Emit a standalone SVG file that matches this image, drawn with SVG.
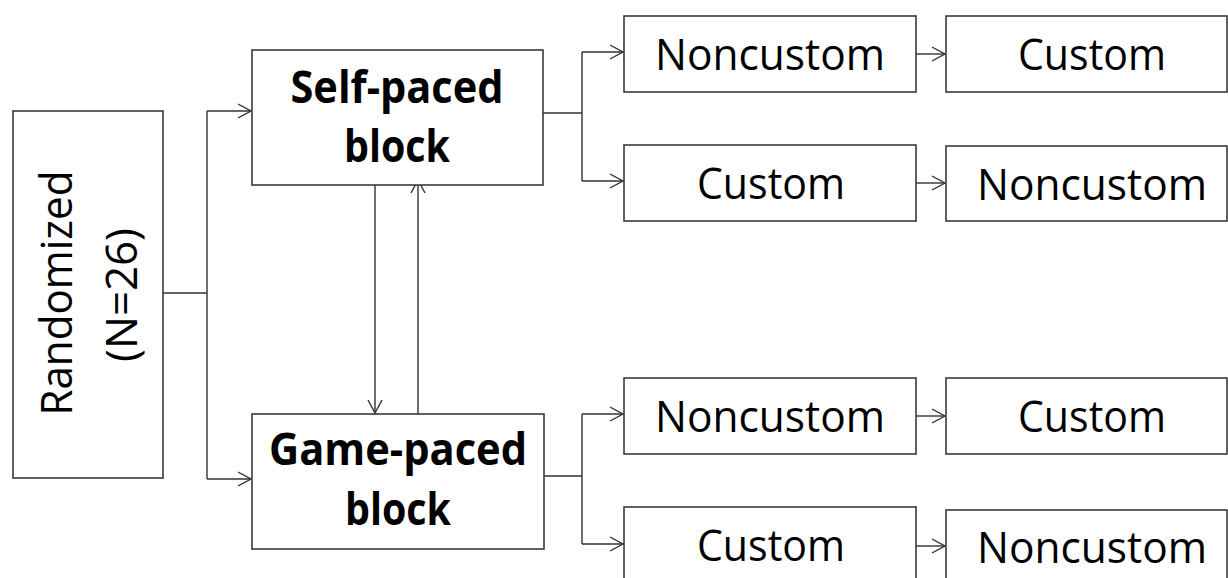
<svg xmlns="http://www.w3.org/2000/svg" width="1228" height="578" viewBox="0 0 1228 578">
<defs>
<style>
.box{fill:#fff;stroke:#3a3a3a;stroke-width:1.6}
.ln{fill:none;stroke:#333;stroke-width:1.4}
.t{font-family:"Open Sans","Liberation Sans",sans-serif;font-size:44px;fill:#000;text-anchor:middle}
.b{font-family:"Open Sans","Liberation Sans",sans-serif;font-size:44px;font-weight:bold;fill:#000;text-anchor:middle}
</style>
<marker id="arr" viewBox="0 0 14 16" refX="13" refY="8" markerWidth="14" markerHeight="16" markerUnits="userSpaceOnUse" orient="auto">
<path d="M0,1 L13,8 L0,15" fill="none" stroke="#333" stroke-width="1.4"/>
</marker>
</defs>
<rect width="1228" height="578" fill="#fff"/>
<g id="connectors">
<path class="ln" d="M163,293 H207 M207,111 V479"/>
<path class="ln" d="M207,111 H251" marker-end="url(#arr)"/>
<path class="ln" d="M207,479 H251" marker-end="url(#arr)"/>
<path class="ln" d="M543,113 H582 M582,52 V181"/>
<path class="ln" d="M582,52 H623" marker-end="url(#arr)"/>
<path class="ln" d="M582,181 H623" marker-end="url(#arr)"/>
<path class="ln" d="M544,476 H582 M582,414 V544"/>
<path class="ln" d="M582,414 H623" marker-end="url(#arr)"/>
<path class="ln" d="M582,544 H623" marker-end="url(#arr)"/>
<path class="ln" d="M916,54 H945" marker-end="url(#arr)"/>
<path class="ln" d="M916,183 H945" marker-end="url(#arr)"/>
<path class="ln" d="M916,416 H945" marker-end="url(#arr)"/>
<path class="ln" d="M916,546 H945" marker-end="url(#arr)"/>
<path class="ln" d="M375,179 V413" marker-end="url(#arr)"/>
<path class="ln" d="M418,414 V180" marker-end="url(#arr)"/>
</g>
<g id="randomized">
<rect class="box" x="13" y="111" width="150" height="367"/>
<text class="t" transform="translate(72,293) rotate(-90)" textLength="245" lengthAdjust="spacingAndGlyphs">Randomized</text>
<text class="t" transform="translate(137,295) rotate(-90)" textLength="134" lengthAdjust="spacingAndGlyphs">(N=26)</text>
</g>
<g id="self-paced">
<rect class="box" x="252" y="50" width="291" height="135"/>
<text class="b" x="397" y="103" textLength="213" lengthAdjust="spacingAndGlyphs">Self-paced</text>
<text class="b" x="397" y="162" textLength="106" lengthAdjust="spacingAndGlyphs">block</text>
</g>
<g id="game-paced">
<rect class="box" x="252" y="414" width="292" height="135"/>
<text class="b" x="398" y="465" textLength="258" lengthAdjust="spacingAndGlyphs">Game-paced</text>
<text class="b" x="398" y="525" textLength="106" lengthAdjust="spacingAndGlyphs">block</text>
</g>
<g id="sp-noncustom-1">
<rect class="box" x="624" y="16" width="292" height="76"/>
<text class="t" x="770" y="70" textLength="230" lengthAdjust="spacingAndGlyphs">Noncustom</text>
</g>
<g id="sp-custom-1">
<rect class="box" x="946" y="16" width="281" height="76"/>
<text class="t" x="1092" y="70" textLength="148" lengthAdjust="spacingAndGlyphs">Custom</text>
</g>
<g id="sp-custom-2">
<rect class="box" x="624" y="145" width="292" height="76"/>
<text class="t" x="771" y="199" textLength="148" lengthAdjust="spacingAndGlyphs">Custom</text>
</g>
<g id="sp-noncustom-2">
<rect class="box" x="946" y="146" width="281" height="75"/>
<text class="t" x="1092" y="200" textLength="230" lengthAdjust="spacingAndGlyphs">Noncustom</text>
</g>
<g id="gp-noncustom-1">
<rect class="box" x="624" y="378" width="292" height="76"/>
<text class="t" x="770" y="432" textLength="230" lengthAdjust="spacingAndGlyphs">Noncustom</text>
</g>
<g id="gp-custom-1">
<rect class="box" x="946" y="378" width="281" height="76"/>
<text class="t" x="1092" y="432" textLength="148" lengthAdjust="spacingAndGlyphs">Custom</text>
</g>
<g id="gp-custom-2">
<rect class="box" x="624" y="507" width="292" height="90"/>
<text class="t" x="771" y="561" textLength="148" lengthAdjust="spacingAndGlyphs">Custom</text>
</g>
<g id="gp-noncustom-2">
<rect class="box" x="946" y="510" width="281" height="90"/>
<text class="t" x="1092" y="563" textLength="230" lengthAdjust="spacingAndGlyphs">Noncustom</text>
</g>
</svg>
